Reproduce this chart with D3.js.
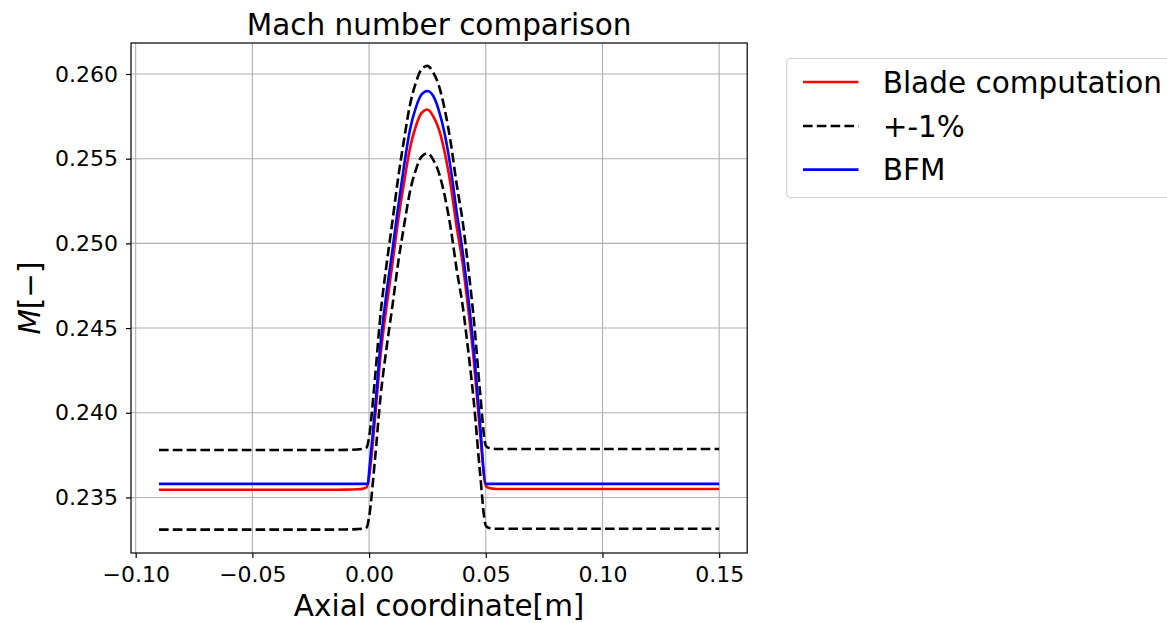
<!DOCTYPE html>
<html>
<head>
<meta charset="utf-8">
<script src="https://cdn.jsdelivr.net/npm/d3@7"></script>
<style>
  html, body { margin: 0; padding: 0; background: #ffffff; overflow: hidden; }
  svg { display: block; font-family: "DejaVu Sans", sans-serif; }
</style>
</head>
<body>
<svg id="chart" width="1167" height="623"></svg>
<script>
// Axial stations of the blade-computation profile (and its +-1% band)
const axialBlade = [-0.09, -0.02, -0.01, -0.005, -0.0025, -0.001, 0,
  0.0025, 0.005, 0.0075, 0.01, 0.0125, 0.015, 0.0175, 0.02, 0.0225, 0.025,
  0.0275, 0.03, 0.0325, 0.035, 0.0375, 0.04, 0.0425, 0.045, 0.0475, 0.05,
  0.051, 0.0525, 0.055, 0.07, 0.15];

// Mach number from the blade computation
const machBlade = [0.23545, 0.23545, 0.23546, 0.23548, 0.23552, 0.2356, 0.2362,
  0.2396, 0.2435, 0.2463, 0.2488, 0.2514, 0.2536, 0.2556, 0.2569, 0.2577, 0.2579,
  0.2575, 0.2567, 0.2553, 0.2534, 0.2510, 0.2489, 0.2461, 0.2429, 0.2389, 0.2357,
  0.23558, 0.23553, 0.2355, 0.2355, 0.2355];

// +1% and -1% envelopes around the blade computation
const machUpper = [0.23780, 0.23780, 0.23781, 0.23783, 0.23788, 0.23796, 0.23856,
  0.24200, 0.24594, 0.24876, 0.25129, 0.25391, 0.25614, 0.25816, 0.25947, 0.26028, 0.26048,
  0.26008, 0.25927, 0.25785, 0.25593, 0.25351, 0.25139, 0.24856, 0.24533, 0.24129, 0.23806,
  0.23794, 0.23789, 0.23786, 0.23786, 0.23786];

const machLower = [0.23310, 0.23310, 0.23311, 0.23313, 0.23316, 0.23324, 0.23384,
  0.23720, 0.24107, 0.24384, 0.24631, 0.24889, 0.25106, 0.25304, 0.25433, 0.25512, 0.25532,
  0.25493, 0.25413, 0.25275, 0.25087, 0.24849, 0.24641, 0.24364, 0.24047, 0.23651, 0.23334,
  0.23322, 0.23317, 0.23315, 0.23315, 0.23315];

// Body-force model result
const axialBFM = [-0.09, -0.0005, 0,
  0.0025, 0.005, 0.0075, 0.01, 0.0125, 0.015, 0.0175, 0.02, 0.0225, 0.025,
  0.0275, 0.03, 0.0325, 0.035, 0.0375, 0.04, 0.0425, 0.045, 0.0475, 0.05, 0.15];
const machBFM = [0.2358, 0.2358, 0.2365,
  0.2401, 0.2442, 0.2471, 0.2496, 0.2522, 0.2546, 0.2567, 0.2580, 0.2588, 0.2590,
  0.2587, 0.2578, 0.2564, 0.2544, 0.2519, 0.2496, 0.2468, 0.2435, 0.2394, 0.2358, 0.2358];

// Axis ticks
const xTicks = [-0.10, -0.05, 0.00, 0.05, 0.10, 0.15];
const yTicks = [0.235, 0.240, 0.245, 0.250, 0.255, 0.260];

// Legend entries
const legendLabels = ["Blade computation", "+-1%", "BFM"];

const svg = d3.select("#chart");
const plot = { left: 131, right: 747.2, top: 43, bottom: 553 };

const x = d3.scaleLinear().domain([-0.102, 0.162]).range([plot.left, plot.right]);
const y = d3.scaleLinear().domain([0.23172, 0.26183]).range([plot.bottom, plot.top]);

const gridColor = "#b0b0b0";
const lw = 2.6;
const dash = "9.6,4.2";

// grid
const grid = svg.append("g");
grid.selectAll("line.gx").data(xTicks).join("line")
  .attr("x1", d => x(d)).attr("x2", d => x(d))
  .attr("y1", plot.top).attr("y2", plot.bottom)
  .attr("stroke", gridColor).attr("stroke-width", 1.1);
grid.selectAll("line.gy").data(yTicks).join("line")
  .attr("y1", d => y(d)).attr("y2", d => y(d))
  .attr("x1", plot.left).attr("x2", plot.right)
  .attr("stroke", gridColor).attr("stroke-width", 1.1);

// series, drawn as smooth monotone curves through the sampled stations
const line = d3.line().x(d => x(d[0])).y(d => y(d[1])).curve(d3.curveMonotoneX);
const zipped = (xs, ys) => xs.map((v, i) => [v, ys[i]]);

const series = [
  { xs: axialBlade, ys: machBlade, color: "#ff0000", dash: null },
  { xs: axialBlade, ys: machUpper, color: "#000000", dash: dash },
  { xs: axialBlade, ys: machLower, color: "#000000", dash: dash },
  { xs: axialBFM, ys: machBFM, color: "#0000ff", dash: null }
];
svg.append("g").selectAll("path").data(series).join("path")
  .attr("d", s => line(zipped(s.xs, s.ys)))
  .attr("fill", "none")
  .attr("stroke", s => s.color)
  .attr("stroke-width", lw)
  .attr("stroke-linejoin", "round")
  .attr("stroke-dasharray", s => s.dash);

// axes
const fmtX = v => (v < 0 ? "\u2212" : "") + Math.abs(v).toFixed(2);
const fmtY = v => v.toFixed(3);

const xAxis = svg.append("g")
  .attr("transform", `translate(0,${plot.bottom})`)
  .call(d3.axisBottom(x).tickValues(xTicks).tickFormat(fmtX).tickSize(5).tickPadding(8).tickSizeOuter(0));
const yAxis = svg.append("g")
  .attr("transform", `translate(${plot.left},0)`)
  .call(d3.axisLeft(y).tickValues(yTicks).tickFormat(fmtY).tickSize(5).tickPadding(8).tickSizeOuter(0));

[xAxis, yAxis].forEach(g => {
  g.select(".domain").remove();
  g.selectAll(".tick line").attr("stroke", "#000").attr("stroke-width", 1.2);
  g.selectAll(".tick text")
    .attr("fill", "#000")
    .style("font-family", "'DejaVu Sans', sans-serif")
    .style("font-size", "22px");
});

// frame
svg.append("rect")
  .attr("x", plot.left).attr("y", plot.top)
  .attr("width", plot.right - plot.left).attr("height", plot.bottom - plot.top)
  .attr("fill", "none").attr("stroke", "#000").attr("stroke-width", 1.2);

// title and axis labels
const cx = (plot.left + plot.right) / 2;
svg.append("text")
  .attr("x", cx).attr("y", 34.5)
  .attr("text-anchor", "middle")
  .style("font-size", "29.5px")
  .text("Mach number comparison");

svg.append("text")
  .attr("x", cx).attr("y", 616)
  .attr("text-anchor", "middle")
  .style("font-size", "29.5px")
  .text("Axial coordinate[m]");

const ylab = svg.append("text")
  .attr("transform", `translate(40,${(plot.top + plot.bottom) / 2}) rotate(-90)`)
  .attr("text-anchor", "middle")
  .style("font-size", "29.5px");
ylab.append("tspan").style("font-style", "italic").text("M");
ylab.append("tspan").text("[\u2212]");

// legend
const legend = svg.append("g");
legend.append("rect")
  .attr("x", 786.7).attr("y", 58.5)
  .attr("width", 420).attr("height", 139)
  .attr("rx", 4).attr("ry", 4)
  .attr("fill", "#ffffff").attr("fill-opacity", 0.8)
  .attr("stroke", "#d5d5d5").attr("stroke-width", 1.2);

const legendItems = [
  { label: legendLabels[0], color: "#ff0000", dash: null },
  { label: legendLabels[1], color: "#000000", dash: dash },
  { label: legendLabels[2], color: "#0000ff", dash: null }
];
const rowY = [82, 126, 169.6];
const lg = legend.selectAll("g.item").data(legendItems).join("g")
  .attr("transform", (d, i) => `translate(0,${rowY[i]})`);
lg.append("line")
  .attr("x1", 803).attr("x2", 858.5).attr("y1", 0).attr("y2", 0)
  .attr("stroke", d => d.color).attr("stroke-width", lw)
  .attr("stroke-dasharray", d => d.dash);
lg.append("text")
  .attr("x", 882.7).attr("y", 10.8)
  .style("font-size", "29.5px")
  .text(d => d.label);
</script>
</body>
</html>
